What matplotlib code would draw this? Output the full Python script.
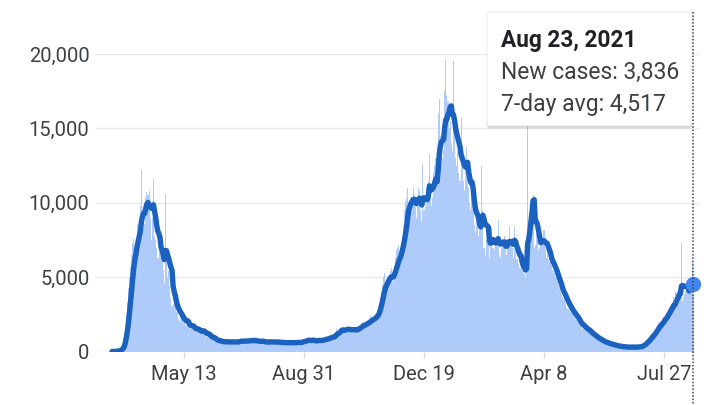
import numpy as np
import pandas as pd
import matplotlib
matplotlib.use("Agg")
import matplotlib.pyplot as plt
import matplotlib.dates as mdates
from matplotlib.patches import FancyBboxPatch
from matplotlib.ticker import FuncFormatter

plt.rcParams['font.family'] = ['Roboto', 'DejaVu Sans']

# daily new cases, Mar 8 2020 .. Aug 23 2021
new_cases = [
    10, 15, 20, 30, 45, 70, 100, 150, 200, 300,
    500, 900, 1600, 2500, 3300, 4300, 5000, 5700, 6500, 7300,
    7600, 7000, 6900, 8600, 8000, 8700, 9800, 12200, 9500, 8300,
    8600, 10400, 10700, 10500, 10800, 9000, 7500, 9000, 11600, 7800,
    7500, 7000, 6300, 6300, 7200, 7000, 6400, 5500, 4600, 10600,
    6200, 5000, 5400, 4400, 3600, 3100, 3200, 3500, 3200, 2700,
    2600, 2200, 2000, 2300, 2800, 2100, 1900, 1800, 1700, 2000,
    1900, 1700, 1500, 1600, 1800, 1500, 1400, 1300, 1600, 1500,
    1400, 1300, 1200, 1350, 1500, 1250, 1100, 1000, 1050, 1100,
    1000, 900, 850, 800, 900, 750, 650, 600, 700, 750,
    800, 650, 600, 550, 650, 700, 750, 700, 650, 600,
    550, 650, 700, 750, 700, 650, 600, 700, 750, 800,
    750, 700, 650, 600, 750, 800, 850, 800, 750, 700,
    650, 700, 750, 800, 700, 650, 600, 700, 750, 700,
    650, 600, 550, 650, 700, 750, 700, 650, 600, 550,
    650, 700, 700, 650, 600, 550, 500, 600, 650, 700,
    650, 600, 550, 500, 600, 650, 700, 650, 600, 550,
    600, 650, 600, 650, 700, 800, 750, 700, 750, 800,
    850, 750, 700, 750, 800, 750, 700, 650, 750, 800,
    850, 800, 750, 700, 800, 900, 950, 1000, 900, 850,
    950, 1050, 1100, 1000, 1100, 1300, 1500, 1400, 1300, 1500,
    1600, 1550, 1400, 1350, 1450, 1500, 1600, 1700, 1400, 1300,
    1350, 1500, 1550, 1600, 1500, 1600, 1400, 1700, 1800, 1900,
    2000, 1900, 1800, 1700, 2000, 2100, 2200, 2400, 2300, 2200,
    2000, 2300, 2500, 2800, 3000, 3300, 3700, 4000, 4500, 5000,
    5300, 4600, 4400, 4800, 5100, 5400, 5600, 5200, 4700, 5500,
    6300, 6800, 7000, 7200, 6400, 6000, 7500, 8500, 9500, 10100,
    10300, 11000, 9800, 9000, 10000, 10400, 11000, 10500, 9700, 9000,
    10200, 11000, 10800, 9500, 8800, 12600, 9500, 9700, 11000, 10400,
    11500, 13300, 10500, 9800, 10300, 12000, 12500, 13000, 11800, 16000,
    17000, 14500, 14000, 13000, 13500, 17500, 19600, 17200, 16800, 15000,
    15500, 14000, 13500, 19500, 14500, 13000, 12500, 13500, 12000, 11500,
    15700, 12800, 11500, 10800, 12500, 13750, 12000, 11000, 10000, 9500,
    11000, 9800, 8500, 8000, 8800, 9000, 7800, 8200, 8400, 12500,
    9500, 7000, 6500, 7500, 7800, 7800, 6200, 8200, 8300, 7000,
    7000, 6800, 7600, 7600, 8850, 6500, 6300, 7200, 7400, 7600,
    7800, 6800, 6500, 7300, 8400, 7400, 7600, 7000, 6300, 8400,
    6800, 6200, 6200, 5900, 5600, 6000, 5400, 5200, 5300, 5000,
    6500, 17500, 8000, 9000, 9500, 10000, 10500, 7000, 7200, 8000,
    7500, 6800, 7000, 7800, 7300, 7600, 8200, 6900, 6300, 6800,
    6200, 6000, 6100, 5800, 5500, 5300, 5600, 5000, 4700, 4500,
    4200, 4000, 3900, 3700, 3500, 3800, 3300, 3000, 2900, 2800,
    2700, 2600, 2800, 2500, 2300, 2200, 2100, 2000, 1900, 1800,
    1700, 1500, 1800, 1600, 1500, 1400, 1350, 1300, 1250, 1200,
    1100, 1050, 1000, 950, 900, 850, 800, 780, 700, 650,
    700, 600, 550, 600, 550, 500, 520, 480, 450, 420,
    400, 420, 380, 350, 360, 340, 370, 330, 300, 280,
    320, 330, 300, 290, 310, 320, 290, 310, 330, 300,
    280, 320, 340, 330, 350, 400, 450, 500, 600, 700,
    750, 850, 900, 1000, 1100, 1200, 1300, 1400, 1500, 1600,
    1800, 1900, 2000, 1900, 2000, 2200, 2300, 2500, 2600, 2700,
    2800, 3000, 3100, 3200, 3300, 3700, 3000, 4000, 4100, 4200,
    4300, 3900, 7300, 3400, 3700, 3900, 4100, 4300, 4500, 4700,
    4100, 4033, 6150, 3836,
]
last_day = "2021-08-23"

tick_dates = ["2020-05-13", "2020-08-31", "2020-12-19", "2021-04-08", "2021-07-27"]
tick_labels = ["May 13", "Aug 31", "Dec 19", "Apr 8", "Jul 27"]
y_ticks = [0, 5000, 10000, 15000, 20000]

dates = pd.date_range(end=last_day, periods=len(new_cases), freq="D")
avg = pd.Series(new_cases, index=dates).rolling(7, min_periods=1).mean()

W, H = 720, 405
fig = plt.figure(figsize=(W / 100, H / 100), dpi=100)

# main chart, placed in pixel terms
ax = fig.add_axes([95 / W, (H - 351.7) / H, (700 - 95) / W, 297.7 / H])
x = mdates.date2num(dates)
ax.bar(x, new_cases, width=1.0, color="#aecbfa", linewidth=0, zorder=2)
ax.plot(x, avg.values, color="#1b62c0", lw=3.9,
        solid_joinstyle="round", solid_capstyle="round", zorder=3)
ax.plot(x[-1], avg.values[-1], "o", ms=10, color="#4285f4", mec="#4285f4",
        zorder=4, clip_on=False)

ticks_x = mdates.date2num(pd.to_datetime(tick_dates))
px_per_day = 120 / 110
ax.set_xlim(ticks_x[0] - (184 - 95) / px_per_day, ticks_x[0] + (700 - 184) / px_per_day)
ax.set_ylim(0, 20000)

ax.set_yticks(y_ticks)
ax.yaxis.set_major_formatter(FuncFormatter(lambda v, _: f"{v:,.0f}"))
ax.set_xticks(ticks_x)
ax.set_xticklabels(tick_labels)
ax.tick_params(axis="y", length=0, pad=4, labelsize=14.5, labelcolor="#3c4043")
ax.tick_params(axis="x", length=4.5, width=1, color="#dadce0", pad=5,
               labelsize=14.5, labelcolor="#3c4043")
ax.grid(axis="y", color="#e8eaed", lw=1, zorder=0)
for s in ax.spines.values():
    s.set_visible(False)

# tooltip overlay in pixel coordinates
ov = fig.add_axes([0, 0, 1, 1], zorder=5)
ov.set_xlim(0, W)
ov.set_ylim(H, 0)
ov.axis("off")
for off, a in [(3, 0.05), (2, 0.07), (1, 0.09)]:
    ov.add_patch(FancyBboxPatch((487, 12 + off), 205, 114, boxstyle="round,pad=0,rounding_size=3",
                                fc="black", ec="none", alpha=a))
ov.add_patch(FancyBboxPatch((487, 12), 205, 114, boxstyle="round,pad=0,rounding_size=3",
                            fc="white", ec="#e6e6e6", lw=0.6))
ov.plot([693, 693], [12, H], color="#3c4043", lw=1.1, ls=(0, (1, 1.2)))

d = dates[-1]
ov.text(501, 47, f"{d:%b} {d.day}, {d.year}", fontsize=16.3, fontweight="bold",
        color="#202124", va="baseline")
ov.text(501, 79, f"New cases: {new_cases[-1]:,}", fontsize=16.5,
        color="#3c4043", va="baseline")
ov.text(501, 111, f"7-day avg: {avg.iloc[-1]:,.0f}", fontsize=16.5,
        color="#3c4043", va="baseline")

fig.savefig("out.png", dpi=100)
